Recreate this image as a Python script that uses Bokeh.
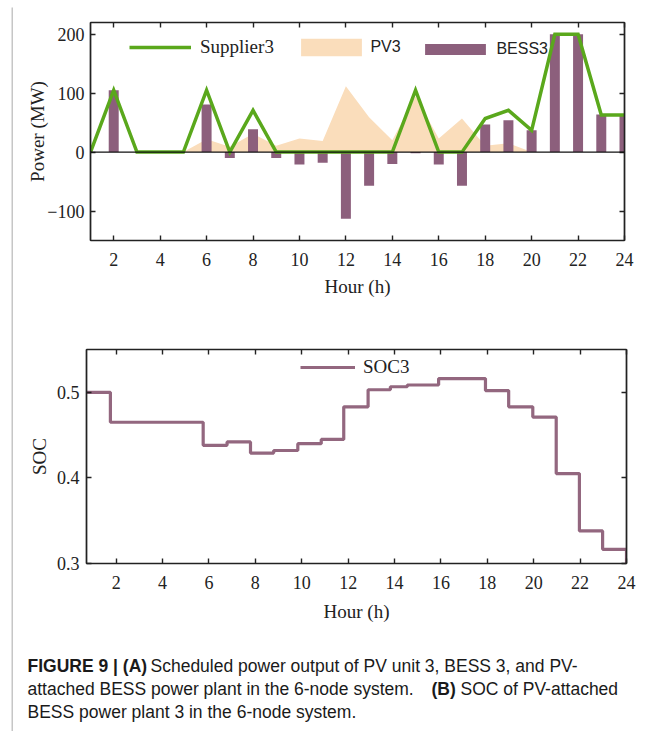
from bokeh.plotting import figure
from bokeh.models import (Range1d, FixedTicker, LinearAxis, Span, Legend, LegendItem,
                          Label, ColumnDataSource)
from bokeh.layouts import column, row
from bokeh.embed import file_html
from bokeh.resources import INLINE
from bokeh.core.properties import value

# ---------------- data ----------------
hours = list(range(1, 25))
supplier3 = [0, 105, 0, 0, 0, 105, 0, 71, 0, 0, 0, 0, 0, 0, 105, 0, 0, 57, 71, 37, 200, 200, 63, 63]
pv3 = [0, 0, 0, 0, 0, 22, 9, 31, 11, 23, 19, 112, 59, 20, 95, 23, 57, 11, 15, 0, 0, 0, 0, 0]
bess3 = [0, 105, 0, 0, 0, 81, -10, 39, -10, -21, -18, -113, -57, -20, -2, -21, -57, 47, 54, 37, 200, 200, 64, 64]

soc_edges = [0.72, 1.75, 5.75, 6.78, 7.79, 8.79, 9.83, 10.84, 11.81, 12.86, 13.82, 14.55,
             15.9, 17.92, 18.92, 19.96, 20.97, 21.97, 22.97, 24.0]
soc3 = [0.5, 0.465, 0.438, 0.442, 0.429, 0.432, 0.44, 0.445, 0.483, 0.503, 0.5065, 0.5085,
        0.516, 0.502, 0.483, 0.471, 0.405, 0.338, 0.3166, 0.3]

x_ticks = list(range(2, 25, 2))
yA_ticks = [-100, 0, 100, 200]
yB_ticks = [0.3, 0.4, 0.5]

caption_lines = [
    [("FIGURE 9 | (A)", "bold"), ("Scheduled power output of PV unit 3, BESS 3, and PV-", "normal")],
    [("attached BESS power plant in the 6-node system.", "normal"), ("(B)", "bold"), ("SOC of PV-attached", "normal")],
    [("BESS power plant 3 in the 6-node system.", "normal")],
]

GREEN = "#5AA81C"
PURPLE = "#8C5F7C"
SOCCOL = "#93677F"
PEACH = "#FADDBB"
FRAMEGRAY = "#c6c6c6"
SERIF = "Liberation Serif"
SANS = "Liberation Sans"
INK = "#222222"


def style_axes(p, xt, yt, xlabel, ylabel):
    bx = p.below[0]
    ly = p.left[0]
    bx.axis_label = xlabel
    ly.axis_label = ylabel
    bx.ticker = FixedTicker(ticks=xt)
    ly.ticker = FixedTicker(ticks=yt)
    for ax in (bx, ly):
        ax.major_tick_in = 5
        ax.major_tick_out = 0
        ax.minor_tick_line_color = None
        ax.axis_line_width = 1.6
        ax.major_tick_line_width = 1.4
        ax.axis_line_color = INK
        ax.major_tick_line_color = INK
        ax.major_label_text_font = SERIF
        ax.major_label_text_font_size = "18px"
        ax.major_label_text_color = INK
        ax.axis_label_text_font = SERIF
        ax.axis_label_text_font_size = "19px"
        ax.axis_label_text_font_style = "normal"
        ax.axis_label_text_color = INK
    common = dict(major_label_text_font_size="8px", major_label_standoff=0,
                  major_tick_in=5, major_tick_out=0, axis_line_width=1.6,
                  major_tick_line_width=1.4, minor_tick_line_color=None,
                  axis_line_color=INK, major_tick_line_color=INK)
    p.add_layout(LinearAxis(ticker=FixedTicker(ticks=xt),
                            major_label_overrides={t: "" for t in xt}, **common), "above")
    p.add_layout(LinearAxis(ticker=FixedTicker(ticks=yt),
                            major_label_overrides={t: "" for t in yt}, **common), "right")
    p.grid.visible = False
    p.outline_line_color = INK
    p.outline_line_width = 1.2
    return bx, ly


def strip(w, h):
    s = figure(width=w, height=h, output_backend="svg", toolbar_location=None,
               x_axis_location=None, y_axis_location=None, frame_align=False,
               min_border_left=0, min_border_right=0, min_border_top=0, min_border_bottom=0,
               background_fill_color=FRAMEGRAY, border_fill_color=FRAMEGRAY)
    s.grid.visible = False
    s.outline_line_color = None
    return s


W = 648
# ---------------- panel A ----------------
HA = 297
pA = figure(width=W, height=HA, output_backend="svg", toolbar_location=None,
            x_range=Range1d(1, 24), y_range=Range1d(-150, 220), frame_align=False,
            min_border_left=77, min_border_right=37, min_border_top=15, min_border_bottom=64)
srcA = ColumnDataSource(dict(h=hours, sup=supplier3, pv=pv3, bess=bess3))
r_pv = pA.varea(x="h", y1=0, y2="pv", source=srcA, fill_color=PEACH, fill_alpha=1.0)
r_bess = pA.vbar(x="h", top="bess", bottom=0, width=0.43, source=srcA,
                 fill_color=PURPLE, line_color=None)
pA.add_layout(Span(location=0, dimension="width", line_color="#111111", line_width=1.3))
r_sup = pA.line(x="h", y="sup", source=srcA, line_color=GREEN, line_width=3.5, line_join="miter")
bxA, lyA = style_axes(pA, x_ticks, yA_ticks, "Hour (h)", "Power (MW)")
bxA.major_label_standoff = 12
bxA.axis_label_standoff = 7
lyA.major_label_standoff = 6
lyA.axis_label_standoff = -4

legA1 = Legend(items=[LegendItem(label="Supplier3", renderers=[r_sup])], location=(39, 181.6),
               border_line_color=None, background_fill_alpha=0, padding=0, margin=0,
               glyph_width=62, glyph_height=22, label_height=22, label_standoff=9,
               label_text_font=SERIF, label_text_font_size="19px", label_text_color=INK)
legA2 = Legend(items=[LegendItem(label="PV3", renderers=[r_pv])], location=(203.4, 181.6),
               border_line_color=None, background_fill_alpha=0, padding=0, margin=0,
               glyph_width=76, glyph_height=22, label_height=22, label_standoff=1,
               label_text_font=SANS, label_text_font_size="16px", label_text_color=INK)
legA3 = Legend(items=[LegendItem(label="BESS3", renderers=[r_bess])], location=(327.4, 182.4),
               border_line_color=None, background_fill_alpha=0, padding=0, margin=0,
               glyph_width=76, glyph_height=14, label_height=14, label_standoff=3,
               label_text_font=SANS, label_text_font_size="16px", label_text_color=INK)
for lg in (legA1, legA2, legA3):
    pA.add_layout(lg)
pA.add_layout(Label(x=-57, y=197.3, x_units="screen", y_units="screen", text="A",
                    text_font=SANS, text_font_style="bold", text_font_size="22px",
                    text_baseline="alphabetic", text_color="#111111"))

# ---------------- panel B ----------------
HB = 325
pB = figure(width=W, height=HB, output_backend="svg", toolbar_location=None,
            x_range=Range1d(0.72, 24), y_range=Range1d(0.3, 0.55), frame_align=False,
            min_border_left=73, min_border_right=35, min_border_top=45, min_border_bottom=66)
srcB = ColumnDataSource(dict(x=soc_edges, soc=soc3))
r_soc = pB.step(x="x", y="soc", source=srcB, mode="after", line_color=SOCCOL, line_width=3.2)
bxB, lyB = style_axes(pB, x_ticks, yB_ticks, "Hour (h)", "SOC")
bxB.major_label_standoff = 12
bxB.axis_label_standoff = 9
lyB.major_label_standoff = 7
lyB.axis_label_standoff = 4
legB = Legend(items=[LegendItem(label="SOC3", renderers=[r_soc])], location=(214, 184.6),
              border_line_color=None, background_fill_alpha=0, padding=0, margin=0,
              glyph_width=55, glyph_height=22, label_height=22, label_standoff=8,
              label_text_font=SERIF, label_text_font_size="19px", label_text_color=INK)
pB.add_layout(legB)
pB.add_layout(Label(x=-53, y=223.3, x_units="screen", y_units="screen", text="B",
                    text_font=SANS, text_font_style="bold", text_font_size="22px",
                    text_baseline="alphabetic", text_color="#111111"))

# ---------------- caption ----------------
HC = 102
pC = figure(width=W, height=HC, output_backend="svg", toolbar_location=None,
            x_range=Range1d(13, 13 + W), y_range=Range1d(629 + HC, 629), frame_align=False,
            x_axis_location=None, y_axis_location=None,
            min_border_left=0, min_border_right=0, min_border_top=0, min_border_bottom=0)
pC.grid.visible = False
pC.outline_line_color = None
seg_x = [[27, 150], [27, 431, 460], [27]]
line_y = [665, 688, 711.7]
for li, segs in enumerate(caption_lines):
    for si, (txt, wt) in enumerate(segs):
        pC.text(x=[seg_x[li][si]], y=[line_y[li]], text=[txt], text_font=value(SANS),
                text_font_size="17.5px", text_font_style=wt, text_baseline="middle",
                text_align="left", text_color="#1a1a1a")

body = column(pA, pB, pC, spacing=0)
layout = column(strip(W + 2, 2), row(strip(2, HA + HB + HC), body, spacing=0), spacing=0,
                styles={"margin-left": "11px", "margin-top": "5px"})

open("out.html", "w").write(file_html(layout, INLINE))
